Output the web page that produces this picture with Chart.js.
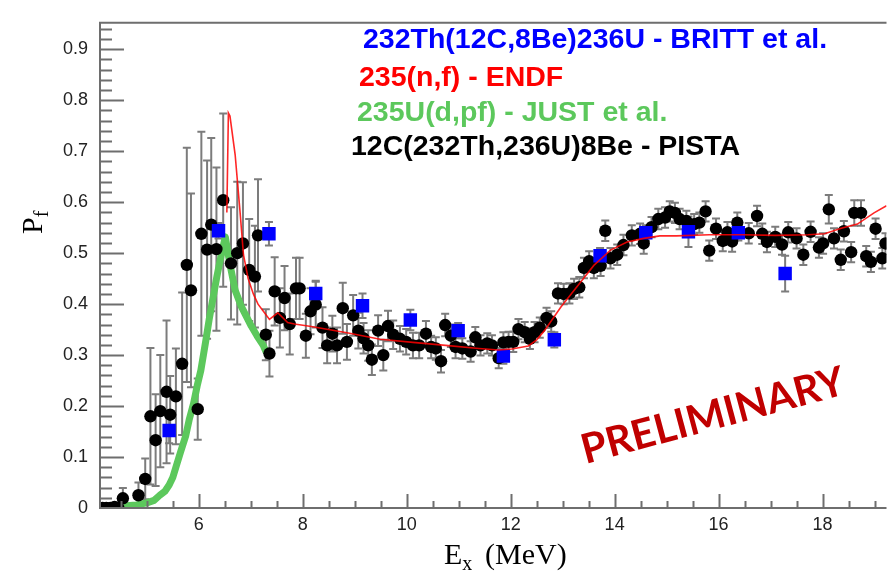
<!DOCTYPE html>
<html>
<head>
<meta charset="utf-8">
<script src="https://cdn.jsdelivr.net/npm/chart.js@4.4.0/dist/chart.umd.min.js"></script>
<style>
  body { margin: 0; background: #fff; }
  canvas { display: block; }
</style>
</head>
<body>
<canvas id="chart" width="896" height="576"></canvas>
<script>
// Axis ranges and tick labels
const xMin = 4.1;
const xMax = 19.23;
const yMin = 0;
const yMax = 0.952;
const xTickLabels = [6, 8, 10, 12, 14, 16, 18];
const yTickLabels = [0, 0.1, 0.2, 0.3, 0.4, 0.5, 0.6, 0.7, 0.8, 0.9];

// 12C(232Th,236U)8Be - PISTA (black circles)
const pistaE = [4.15, 4.22, 4.30, 4.38, 4.45, 4.54, 4.84, 4.97, 5.07, 5.17,
    5.26, 5.38, 5.45, 5.56, 5.68, 5.77, 5.85, 5.98, 6.05, 6.16,
    6.24, 6.34, 6.47, 6.62, 6.74, 6.85, 6.97, 7.08, 7.14, 7.29,
    7.36, 7.46, 7.56, 7.65, 7.75, 7.87, 7.94, 8.06, 8.15, 8.25,
    8.38, 8.47, 8.57, 8.66, 8.77, 8.85, 8.97, 9.07, 9.17, 9.26,
    9.33, 9.45, 9.55, 9.64, 9.74, 9.87, 9.99, 10.12, 10.24, 10.37,
    10.47, 10.56, 10.66, 10.74, 10.85, 10.94, 11.07, 11.23, 11.32, 11.42,
    11.55, 11.64, 11.77, 11.86, 11.96, 12.05, 12.15, 12.27, 12.37, 12.46,
    12.56, 12.69, 12.78, 12.91, 13.02, 13.13, 13.22, 13.32, 13.41, 13.51,
    13.60, 13.73, 13.82, 13.92, 14.05, 14.17, 14.33, 14.49, 14.56, 14.71,
    14.84, 14.97, 15.06, 15.16, 15.25, 15.38, 15.53, 15.63, 15.75, 15.82,
    15.95, 16.08, 16.17, 16.26, 16.36, 16.58, 16.74, 16.84, 16.93, 17.09,
    17.22, 17.34, 17.50, 17.63, 17.77, 17.93, 18.01, 18.12, 18.22, 18.35,
    18.41, 18.55, 18.61, 18.74, 18.84, 18.93, 19.02, 19.15, 19.21];
const pistaP = [0.000, 0.000, 0.000, 0.002, 0.000, 0.019, 0.025, 0.057, 0.180, 0.133,
    0.190, 0.228, 0.183, 0.219, 0.283, 0.477, 0.427, 0.194, 0.538, 0.507,
    0.556, 0.508, 0.604, 0.480, 0.500, 0.519, 0.467, 0.454, 0.535, 0.340,
    0.303, 0.425, 0.373, 0.412, 0.361, 0.431, 0.431, 0.338, 0.386, 0.399,
    0.354, 0.319, 0.342, 0.319, 0.392, 0.326, 0.378, 0.348, 0.333, 0.319,
    0.291, 0.348, 0.300, 0.357, 0.340, 0.332, 0.326, 0.319, 0.319, 0.342,
    0.316, 0.313, 0.288, 0.359, 0.338, 0.316, 0.313, 0.307, 0.335, 0.319,
    0.323, 0.319, 0.294, 0.325, 0.326, 0.326, 0.351, 0.345, 0.332, 0.345,
    0.354, 0.373, 0.366, 0.421, 0.420, 0.421, 0.430, 0.433, 0.471, 0.484,
    0.471, 0.475, 0.544, 0.490, 0.497, 0.516, 0.535, 0.538, 0.519, 0.551,
    0.567, 0.570, 0.582, 0.579, 0.567, 0.563, 0.557, 0.560, 0.582, 0.505,
    0.548, 0.524, 0.541, 0.523, 0.560, 0.539, 0.573, 0.538, 0.522, 0.532,
    0.517, 0.541, 0.529, 0.497, 0.542, 0.511, 0.519, 0.586, 0.529, 0.487,
    0.543, 0.502, 0.579, 0.579, 0.494, 0.483, 0.548, 0.490, 0.519];
const pistaErr = [0.004, 0.004, 0.004, 0.004, 0.004, 0.020, 0.025, 0.040, 0.134, 0.090,
    0.110, 0.140, 0.076, 0.094, 0.140, 0.230, 0.190, 0.060, 0.200, 0.175,
    0.170, 0.160, 0.170, 0.110, 0.140, 0.120, 0.100, 0.100, 0.110, 0.050,
    0.045, 0.067, 0.058, 0.063, 0.060, 0.060, 0.060, 0.043, 0.045, 0.045,
    0.040, 0.035, 0.035, 0.035, 0.050, 0.035, 0.040, 0.035, 0.030, 0.030,
    0.030, 0.030, 0.030, 0.030, 0.028, 0.025, 0.025, 0.025, 0.025, 0.025,
    0.022, 0.022, 0.022, 0.022, 0.022, 0.022, 0.020, 0.020, 0.020, 0.020,
    0.020, 0.020, 0.020, 0.020, 0.020, 0.020, 0.020, 0.020, 0.020, 0.020,
    0.020, 0.020, 0.020, 0.020, 0.020, 0.020, 0.020, 0.020, 0.020, 0.020,
    0.020, 0.020, 0.020, 0.020, 0.020, 0.020, 0.020, 0.020, 0.020, 0.020,
    0.020, 0.020, 0.020, 0.020, 0.020, 0.020, 0.020, 0.020, 0.020, 0.020,
    0.020, 0.020, 0.020, 0.020, 0.020, 0.020, 0.020, 0.020, 0.020, 0.020,
    0.020, 0.020, 0.020, 0.020, 0.020, 0.020, 0.020, 0.028, 0.020, 0.020,
    0.020, 0.020, 0.025, 0.025, 0.020, 0.020, 0.020, 0.020, 0.020];

// 232Th(12C,8Be)236U - BRITT et al. (blue squares)
const brittE = [5.43, 6.38, 7.35, 8.25, 9.15, 10.07, 10.99, 11.86, 12.84, 13.72, 14.60, 15.42, 16.38, 17.28];
const brittP = [0.152, 0.544, 0.538, 0.421, 0.397, 0.369, 0.348, 0.298, 0.330, 0.495, 0.540, 0.542, 0.540, 0.460];
const brittErr = [0.025, 0.015, 0.023, 0.025, 0.024, 0.020, 0.015, 0.015, 0.015, 0.015, 0.015, 0.030, 0.015, 0.035];

// 235U(d,pf) - JUST et al. (green curve)
const justE = [4.55, 4.80, 5.00, 5.14, 5.25, 5.35, 5.43, 5.50, 5.56, 5.65,
    5.75, 5.82, 5.90, 5.97, 6.04, 6.13, 6.20, 6.27, 6.35, 6.43,
    6.51, 6.60, 6.70, 6.82, 6.92, 7.01, 7.12, 7.24, 7.30];
const justP = [0.004, 0.006, 0.010, 0.015, 0.025, 0.033, 0.045, 0.060, 0.080, 0.110,
    0.142, 0.175, 0.205, 0.240, 0.270, 0.325, 0.370, 0.410, 0.455, 0.495,
    0.532, 0.478, 0.427, 0.395, 0.375, 0.357, 0.338, 0.319, 0.305];

// 235(n,f) - ENDF (red curve)
const endfE = [6.54, 6.57, 6.60, 6.70, 6.79, 6.86, 6.95, 7.05, 7.14, 7.25,
    7.36, 7.52, 7.71, 7.84, 8.10, 8.22, 8.85, 9.49, 10.12, 10.75,
    11.39, 11.77, 12.02, 12.34, 12.50, 12.65, 12.97, 13.29, 13.60, 13.92,
    14.24, 14.56, 14.87, 15.19, 15.82, 16.46, 17.09, 17.72, 18.04, 18.36,
    18.67, 18.99, 19.23];
const endfP = [0.580, 0.775, 0.769, 0.693, 0.586, 0.497, 0.450, 0.420, 0.400, 0.385,
    0.370, 0.383, 0.364, 0.361, 0.357, 0.355, 0.344, 0.331, 0.325, 0.319,
    0.313, 0.310, 0.312, 0.318, 0.330, 0.348, 0.395, 0.436, 0.476, 0.506,
    0.522, 0.529, 0.534, 0.534, 0.536, 0.536, 0.535, 0.536, 0.538, 0.549,
    0.557, 0.579, 0.593];

// Legend lines, drawn as coloured text like the original figure
const legendLines = [
    { text: '232Th(12C,8Be)236U - BRITT et al.', color: '#0000ff', x: 363, y: 48 },
    { text: '235(n,f) - ENDF', color: '#ff0000', x: 359, y: 86 },
    { text: '235U(d,pf) - JUST et al.', color: '#5cc85c', x: 357, y: 121 },
    { text: '12C(232Th,236U)8Be - PISTA', color: '#000000', x: 351, y: 155 }
];

const toPoints = (xs, ys) => xs.map((x, i) => ({ x: x, y: ys[i] }));

// Gray error bars with small caps, drawn under the markers
const errorBars = {
    id: 'errorBars',
    beforeDatasetsDraw(chart) {
        const { ctx, chartArea: a, scales: { x, y } } = chart;
        ctx.save();
        ctx.beginPath();
        ctx.rect(a.left, a.top, a.right - a.left, a.bottom - a.top);
        ctx.clip();
        ctx.strokeStyle = '#7c7c7c';
        ctx.lineWidth = 2;
        [[pistaE, pistaP, pistaErr], [brittE, brittP, brittErr]].forEach(([xs, ys, es]) => {
            xs.forEach((e, i) => {
                const px = x.getPixelForValue(e);
                const top = y.getPixelForValue(ys[i] + es[i]);
                const bot = y.getPixelForValue(ys[i] - es[i]);
                ctx.beginPath();
                ctx.moveTo(px, top); ctx.lineTo(px, bot);
                ctx.moveTo(px - 4, top); ctx.lineTo(px + 4, top);
                ctx.moveTo(px - 4, bot); ctx.lineTo(px + 4, bot);
                ctx.stroke();
            });
        });
        ctx.restore();
    }
};

// ROOT-style frame: inside ticks, top border, no right border
const frame = {
    id: 'frame',
    afterDatasetsDraw(chart) {
        const { ctx, chartArea: a, scales: { x, y } } = chart;
        ctx.save();
        ctx.strokeStyle = '#6e6e6e';
        ctx.lineWidth = 2;
        ctx.beginPath();
        ctx.moveTo(a.right, a.top);
        ctx.lineTo(a.left, a.top);
        ctx.lineTo(a.left, a.bottom);
        ctx.lineTo(a.right, a.bottom);
        ctx.stroke();

        ctx.beginPath();
        // y ticks every 0.02, major every 0.1
        for (let k = 1; k * 0.02 <= yMax; k++) {
            const py = Math.round(y.getPixelForValue(k * 0.02)) + 0.5;
            const len = k % 5 === 0 ? 24 : 12;
            ctx.moveTo(a.left, py);
            ctx.lineTo(a.left + len, py);
        }
        // x ticks every 0.5, major every 2
        for (let k = 9; k / 2 <= xMax; k++) {
            const px = Math.round(x.getPixelForValue(k / 2)) + 0.5;
            const len = k % 4 === 0 ? 14 : 7;
            ctx.moveTo(px, a.bottom);
            ctx.lineTo(px, a.bottom - len);
        }
        ctx.stroke();
        ctx.restore();
    }
};

// Axis titles with subscripts, legend text and the PRELIMINARY stamp
const annotations = {
    id: 'annotations',
    afterDraw(chart) {
        const ctx = chart.ctx;
        const serif = '"Liberation Serif", "Times New Roman", serif';
        ctx.save();
        ctx.fillStyle = '#000';
        ctx.textBaseline = 'alphabetic';

        // E_x (MeV)
        ctx.font = '30px ' + serif;
        ctx.fillText('E', 444, 564);
        const wE = ctx.measureText('E').width;
        ctx.font = '20px ' + serif;
        ctx.fillText('x', 444 + wE, 570);
        ctx.font = '30px ' + serif;
        ctx.fillText('(MeV)', 485, 564);

        // P_f, rotated
        ctx.save();
        ctx.translate(42, 234);
        ctx.rotate(-Math.PI / 2);
        ctx.font = '30px ' + serif;
        ctx.fillText('P', 0, 0);
        const wP = ctx.measureText('P').width;
        ctx.font = '20px ' + serif;
        ctx.fillText('f', wP, 6);
        ctx.restore();

        // legend
        ctx.font = 'bold 28.5px "Liberation Sans", Arial, sans-serif';
        legendLines.forEach(line => {
            ctx.fillStyle = line.color;
            ctx.fillText(line.text, line.x, line.y);
        });

        // stamp
        ctx.save();
        ctx.translate(713, 416);
        ctx.rotate(-15 * Math.PI / 180);
        ctx.font = 'bold 41px Lato, "Open Sans", sans-serif';
        ctx.fillStyle = '#c00000';
        ctx.textAlign = 'center';
        ctx.textBaseline = 'middle';
        ctx.fillText('PRELIMINARY', 0, 0);
        ctx.restore();

        ctx.restore();
    }
};

Chart.defaults.font.family = '"Liberation Sans", Arial, sans-serif';

const chart = new Chart(document.getElementById('chart').getContext('2d'), {
    type: 'scatter',
    data: {
        datasets: [
            {
                label: '235(n,f) - ENDF',
                data: toPoints(endfE, endfP),
                showLine: true,
                borderColor: 'rgba(255, 0, 0, 0.85)',
                borderWidth: 1.6,
                pointRadius: 0,
                tension: 0,
                order: 0
            },
            {
                label: '232Th(12C,8Be)236U - BRITT et al.',
                data: toPoints(brittE, brittP),
                pointStyle: 'rect',
                pointRadius: 9.5,
                backgroundColor: '#0000ff',
                borderWidth: 0,
                order: 1
            },
            {
                label: '12C(232Th,236U)8Be - PISTA',
                data: toPoints(pistaE, pistaP),
                pointStyle: 'circle',
                pointRadius: 6.2,
                backgroundColor: '#000',
                borderColor: '#000',
                borderWidth: 0,
                order: 2
            },
            {
                label: '235U(d,pf) - JUST et al.',
                data: toPoints(justE, justP),
                showLine: true,
                borderColor: '#5cc85c',
                borderWidth: 7,
                borderJoinStyle: 'round',
                pointRadius: 0,
                tension: 0,
                order: 3
            }
        ]
    },
    options: {
        responsive: false,
        animation: false,
        devicePixelRatio: 1,
        layout: { padding: { top: 7, right: 0, bottom: 0, left: 0 } },
        plugins: {
            legend: { display: false },
            tooltip: { enabled: false }
        },
        scales: {
            x: {
                type: 'linear',
                min: xMin,
                max: xMax,
                grid: { display: false, drawTicks: false },
                border: { display: false },
                afterBuildTicks: scale => { scale.ticks = xTickLabels.map(v => ({ value: v })); },
                afterFit: scale => { scale.height = 68; },
                ticks: {
                    padding: 6,
                    color: '#222',
                    font: { size: 18 },
                    maxRotation: 0,
                    callback: v => String(v)
                }
            },
            y: {
                type: 'linear',
                min: yMin,
                max: yMax,
                grid: { display: false, drawTicks: false },
                border: { display: false },
                afterBuildTicks: scale => { scale.ticks = yTickLabels.map(v => ({ value: v })); },
                afterFit: scale => { scale.width = 100; },
                ticks: {
                    padding: 12,
                    color: '#222',
                    font: { size: 18 },
                    callback: v => (v === 0 ? '0' : v.toFixed(1))
                }
            }
        }
    },
    plugins: [errorBars, frame, annotations]
});
</script>
</body>
</html>
